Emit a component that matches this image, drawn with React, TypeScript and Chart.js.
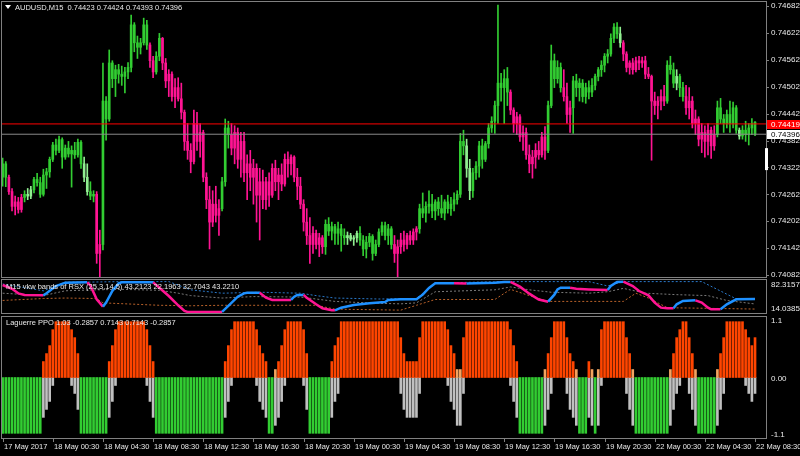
import React, { useEffect, useRef } from "react";
import { Chart, registerables } from "chart.js";

Chart.register(...registerables);

// ---------- DATA (prices in points above 0.74000) ----------
const PRICE_BASE = 0.74;
const openPts = [300,330,300,268,235,245,228,255,262,258,272,295,288,262,305,312,340,372,360,384,345,365,352,360,350,378,330,300,268,258,262,130,150,470,430,555,520,540,530,525,535,545,640,600,590,600,640,595,560,535,570,610,555,515,530,480,500,475,445,380,360,335,420,380,400,300,250,200,240,215,230,290,410,395,365,400,340,380,310,330,300,320,260,290,250,290,260,320,290,305,285,340,330,345,300,280,240,200,170,150,175,150,165,145,195,180,190,175,185,170,165,170,162,165,175,160,140,155,168,130,150,178,192,170,185,150,130,145,160,150,170,160,178,185,230,220,235,240,225,245,230,220,245,230,240,250,262,380,370,320,270,310,325,370,340,375,410,425,460,510,500,520,490,450,420,435,390,400,350,330,345,360,350,390,360,460,560,520,545,500,480,440,455,515,500,510,480,500,490,505,525,540,550,570,575,610,635,620,600,575,545,555,540,560,555,560,530,525,470,460,470,480,470,550,540,510,525,500,480,455,470,420,430,385,400,380,405,370,395,455,430,420,440,420,455,405,392,405,395,410,423];
const highPts = [343,335,305,275,258,255,262,270,275,280,300,309,300,318,320,345,378,385,392,388,372,380,370,378,385,382,345,330,290,270,268,182,555,480,584,560,550,552,548,545,556,662,645,615,610,655,650,600,570,580,621,612,565,540,535,520,522,510,450,420,375,450,445,420,405,310,280,270,280,250,300,430,425,420,415,410,400,400,350,360,340,330,320,316,300,310,330,338,320,330,352,357,350,348,320,300,250,230,210,190,182,175,170,205,210,200,195,200,195,185,178,175,170,180,190,170,168,175,172,160,185,200,200,195,190,170,160,175,180,175,180,185,190,240,265,245,270,262,250,255,260,250,260,255,265,270,398,405,385,340,320,335,380,385,380,420,435,470,684,532,540,545,495,455,445,440,415,410,372,360,375,380,400,413,470,595,575,560,555,540,510,470,525,530,520,518,510,515,520,530,545,560,576,585,620,643,645,635,605,580,560,565,568,570,568,570,545,528,490,480,495,505,560,570,555,540,530,512,505,500,480,450,435,420,415,420,412,415,470,476,440,450,470,468,460,410,415,425,420,431,424];
const lowPts = [280,279,262,225,216,220,222,245,250,252,265,280,255,258,275,300,335,350,355,320,340,345,278,342,345,320,290,260,250,245,108,78,138,383,425,500,480,510,505,488,520,535,580,565,575,595,585,545,522,530,560,540,500,480,470,455,470,430,360,340,310,330,360,345,290,230,140,190,200,170,225,280,365,350,330,320,300,290,250,270,240,200,160,230,228,235,255,270,250,270,280,300,305,290,250,230,180,150,108,130,140,123,130,128,170,160,150,150,135,150,150,158,148,155,148,125,120,145,115,125,145,170,160,150,140,110,78,130,135,140,150,150,160,175,210,200,220,210,205,215,210,205,220,215,225,240,255,350,300,250,255,295,300,320,335,365,400,398,420,470,420,460,440,400,395,380,360,340,310,298,320,340,345,340,355,455,500,510,490,470,420,400,398,480,470,468,465,475,480,495,515,525,535,555,570,600,610,590,560,535,530,530,535,540,545,520,520,338,440,430,450,460,465,530,500,495,480,470,440,430,410,395,370,355,345,350,342,360,390,420,400,410,400,410,398,385,385,380,372,395,393];
const closePts = [330,300,268,235,245,228,255,262,258,272,295,288,262,305,312,340,372,360,384,345,365,352,360,350,378,330,300,268,258,262,130,150,470,430,555,520,540,530,525,535,545,640,600,590,600,640,595,560,535,570,610,555,515,530,480,500,475,445,380,360,335,420,380,400,300,250,200,240,215,230,290,410,395,365,400,340,380,310,330,300,320,260,290,250,290,260,320,290,305,285,340,330,345,300,280,240,200,170,150,175,150,165,145,195,180,190,175,185,170,165,170,162,165,175,160,140,155,168,130,150,178,192,170,185,150,130,145,160,150,170,160,178,185,230,220,235,240,225,245,230,220,245,230,240,250,262,380,370,320,270,310,325,370,340,375,410,425,460,510,500,520,490,450,420,435,390,400,350,330,345,360,350,390,360,460,560,520,545,500,480,440,455,515,500,510,480,500,490,505,525,540,550,570,575,610,635,620,600,575,545,555,540,560,555,560,530,525,470,460,470,480,470,550,540,510,525,500,480,455,470,420,430,385,400,380,405,370,395,455,430,420,440,420,455,405,392,405,395,410,420,396];
// candle colour state: g = green, l = light green, p = pink (run-length)
const trendRuns: [string, number][] = [["g",2],["p",5],["g",1],["l",2],["g",16],["l",2],["g",2],["p",2],["g",15],["p",2],["g",2],["p",19],["g",3],["p",30],["g",7],["l",4],["g",11],["p",8],["g",15],["l",2],["g",12],["p",12],["g",5],["p",3],["g",15],["l",1],["p",14],["g",3],["l",1],["g",2],["p",10],["g",7],["l",1],["g",5]];
const askPts = 419;
const bidPts = 396;
const priceTicks = [82,142,202,262,322,382,442,502,562,622,682];
// small white marker on the price scale (from / to, points)
const scaleMarker = [365, 316];

// RSX window
const rsxBars = [0,3,5,7,13,14,17,20,27,28,30,32,33,35,37,38,48,50,53,56,58,59,70,72,75,77,78,82,84,86,92,93,94,96,97,100,102,105,106,108,112,117,122,123,127,132,134,136,138,144,148,157,160,162,165,168,171,174,176,177,178,181,183,187,193,194,196,198,201,203,206,208,210,212,214,215,217,221,223,225,226,229,231,234,240];
const rsxValues = [72,64,54.7,51.3,50.6,54.7,69.9,76.8,77.5,71,42.3,27.2,35.5,59.5,75.4,77.5,77.5,66.4,49.2,30,18.2,16.2,16.2,28.6,47.8,54.7,56.1,56.1,45.8,41,41,47.8,51.3,51.5,45.8,32,23.8,19.6,19.6,25.1,30.6,34.1,36.8,41,42.3,42.3,52,66,75.4,75.4,75,76.8,78.2,78.2,68.5,54,42,37.5,52,62.9,66.4,66.4,64.3,62.9,61.6,69.9,78.2,78.9,69.9,59.5,50.6,35.5,25.1,23.8,23.8,32,38.9,40.3,35.5,25.1,21.7,21.7,32,42.3,43.221];
const rsxDir = ["p","p","p","p","p","b","b","b","b","p","p","p","b","b","b","b","b","p","p","p","p","p","p","b","b","b","b","b","p","p","p","b","b","b","p","p","p","p","p","b","b","b","b","b","b","b","b","b","b","b","p","b","b","b","p","p","p","p","b","b","b","b","p","p","p","b","b","b","p","p","p","p","p","p","p","b","b","b","p","p","p","p","b","b","b"];
const upperBars = [0,13,20,28,38,53,60,70,82,95,100,106,120,132,138,160,187,193,198,223,234,240];
const upperVals = [74,60,78,78,79,79,62,55,57,55,50,45,43,44,76,79,79,70,79,79,43.2,43.212];
const midBars = [0,13,20,30,38,50,56,60,70,80,95,100,106,120,127,132,138,157,162,168,175,187,193,198,205,215,225,231,240];
const midVals = [55,50,60,62,63,61,55,50,45,48,47,43,38,34,33,35,58,62,68,62,57,55,58,65,55,52,50,40,32.704];
const lowBars = [0,13,20,30,32,50,60,70,100,106,127,132,138,157,162,168,174,198,202,206,212,240];
const lowVals = [40,44,45,44,35,30,29,30,30,22,20,30,42,42,63,50,38,38,55,45,25,22.196];
const RSX_MAX = 82.3157;
const RSX_MIN = 14.0385;

// Laguerre PPO, level in sevenths (0..7) per bar
const ppoLevel = [0,0,0,0,0,0,0,0,0,0,0,0,0,2,3,4,6,7,7,7,7,7,6,5,3,0,0,0,0,0,0,0,0,0,2,4,6,7,7,7,7,7,7,7,7,7,6,4,2,0,0,0,0,0,0,0,0,0,0,0,0,0,0,0,0,0,0,0,0,0,0,2,4,6,7,7,7,7,7,7,7,6,4,3,2,0,0,1,2,4,6,7,7,7,7,7,6,3,0,0,0,0,0,0,0,2,4,5,7,7,7,7,7,7,7,7,7,7,7,7,7,7,7,7,7,7,7,5,3,2,2,2,2,5,7,7,7,7,7,7,7,7,6,4,3,1,1,5,7,7,7,7,7,7,7,7,7,7,7,7,7,7,6,4,2,0,0,0,0,0,0,0,0,1,3,5,7,7,7,7,5,3,2,1,0,0,0,2,1,0,1,6,7,7,7,7,7,7,7,5,3,1,0,0,0,0,0,0,0,0,0,0,0,1,3,5,6,7,7,5,3,1,0,0,0,0,0,0,1,3,5,7,7,7,7,7,7,6,5,4,5];

const timeLabels = ["17 May 2017","18 May 00:30","18 May 04:30","18 May 08:30","18 May 12:30","18 May 16:30","18 May 20:30","19 May 00:30","19 May 04:30","19 May 08:30","19 May 12:30","19 May 16:30","19 May 20:30","22 May 00:30","22 May 04:30","22 May 08:30"];
const LABEL_STEP = 16;

// ---------- STYLE ----------
const X_MIN = -0.2;
const X_MAX = 243.5;
const GREEN = "#32CD32";
const LIGHT = "#90EE90";
const PINK = "#FF1493";
const BLUE = "#1E90FF";
const ORANGE = "#FF4500";
const TAN = "#F4A460";
const SILVER = "#C0C0C0";
const FRAME = "#808080";
const TEXT = "#e8e8e8";
const FONT = "'Liberation Sans', Arial, sans-serif";

const trend: string[] = trendRuns.flatMap(([c, n]) => Array(n).fill(c));
const barIdx = closePts.map((_, i) => i);
const candleColors = barIdx.map((i) => (trend[i] === "p" ? PINK : trend[i] === "l" ? LIGHT : GREEN));
const fmtPrice = (v: number) => (PRICE_BASE + v / 100000).toFixed(5);

function frame(ctx: CanvasRenderingContext2D, a: any) {
  ctx.strokeStyle = FRAME;
  ctx.lineWidth = 1;
  ctx.strokeRect(a.left - 0.5, a.top - 0.5, a.right - a.left + 1, a.bottom - a.top + 1);
}

const mainDecor = {
  id: "mainDecor",
  afterDraw(chart: any) {
    const { ctx, chartArea: a } = chart;
    const y = chart.scales.y;
    ctx.save();
    frame(ctx, a);
    ctx.font = `8px ${FONT}`;
    ctx.textBaseline = "middle";
    ctx.textAlign = "left";
    for (const v of priceTicks) {
      const py = y.getPixelForValue(v);
      ctx.fillStyle = FRAME;
      ctx.fillRect(a.right + 1, Math.round(py), 2, 1);
      ctx.fillStyle = TEXT;
      ctx.fillText(fmtPrice(v), a.right + 5, py);
    }
    const ay = y.getPixelForValue(askPts);
    ctx.fillStyle = "#ff0000";
    ctx.fillRect(a.right + 1, Math.round(ay) - 4, 34, 9);
    ctx.fillStyle = "#ffffff";
    ctx.fillText(fmtPrice(askPts), a.right + 5, ay + 0.5);
    const by = y.getPixelForValue(bidPts);
    ctx.fillStyle = "#ffffff";
    ctx.fillRect(a.right + 1, Math.round(by) - 4, 34, 9);
    ctx.fillStyle = "#000000";
    ctx.fillText(fmtPrice(bidPts), a.right + 5, by + 0.5);
    // marker on the scale
    const m0 = y.getPixelForValue(scaleMarker[0]);
    const m1 = y.getPixelForValue(scaleMarker[1]);
    ctx.fillStyle = "#ffffff";
    ctx.fillRect(a.right - 1, m0, 3, m1 - m0);
    // title
    ctx.beginPath();
    ctx.moveTo(5, 5);
    ctx.lineTo(11, 5);
    ctx.lineTo(8, 9);
    ctx.closePath();
    ctx.fill();
    ctx.fillStyle = TEXT;
    ctx.font = `7.5px ${FONT}`;
    ctx.fillText(
      `AUDUSD,M15  ${fmtPrice(openPts[openPts.length - 1])} ${fmtPrice(highPts[highPts.length - 1])} ${fmtPrice(lowPts[lowPts.length - 1])} ${fmtPrice(closePts[closePts.length - 1])}`,
      15,
      8
    );
    ctx.restore();
  },
};

const rsxDecor = {
  id: "rsxDecor",
  afterDraw(chart: any) {
    const { ctx, chartArea: a } = chart;
    ctx.save();
    frame(ctx, a);
    ctx.font = `8px ${FONT}`;
    ctx.textBaseline = "middle";
    ctx.fillStyle = TEXT;
    ctx.fillText(RSX_MAX.toFixed(4), a.right + 5, a.top + 5);
    ctx.fillText(RSX_MIN.toFixed(4), a.right + 5, a.bottom - 4);
    ctx.font = `7.5px ${FONT}`;
    ctx.fillText("M15 vkw bands of RSX (25,3,14.5) 43.2123 22.1963 32.7043 43.2210", 6, a.top + 7);
    ctx.restore();
  },
};

const ppoDecor = {
  id: "ppoDecor",
  afterDraw(chart: any) {
    const { ctx, chartArea: a } = chart;
    const x = chart.scales.x;
    const y = chart.scales.y;
    ctx.save();
    frame(ctx, a);
    ctx.font = `8px ${FONT}`;
    ctx.textBaseline = "middle";
    ctx.fillStyle = TEXT;
    ctx.fillText("1.1", a.right + 5, a.top + 3.5);
    ctx.fillText("0.00", a.right + 5, y.getPixelForValue(0) + 1);
    ctx.fillText("-1.1", a.right + 5, a.bottom - 3);
    ctx.font = `7.5px ${FONT}`;
    ctx.fillText("Laguerre PPO 1.03 -0.2857 0.7143 0.7143 -0.2857", 6, a.top + 6);
    // time axis
    timeLabels.forEach((t, k) => {
      const px = Math.round(x.getPixelForValue(k * LABEL_STEP));
      ctx.fillStyle = FRAME;
      ctx.fillRect(px, a.bottom + 1, 1, 3);
      ctx.fillStyle = TEXT;
      ctx.fillText(t, px + 1, a.bottom + 9);
    });
    ctx.restore();
  },
};

function mainConfig(): any {
  return {
    type: "bar",
    data: {
      datasets: [
        { type: "line", data: [{ x: X_MIN, y: askPts }, { x: X_MAX, y: askPts }], borderColor: "#ff0000", borderWidth: 1, pointRadius: 0, order: 0 },
        { type: "line", data: [{ x: X_MIN, y: bidPts }, { x: X_MAX, y: bidPts }], borderColor: "#8a8a8a", borderWidth: 1, pointRadius: 0, order: 0 },
        { data: barIdx.map((i) => ({ x: i, y: [openPts[i], closePts[i]] })), backgroundColor: candleColors, barThickness: 2, minBarLength: 1, grouped: false, order: 1 },
        { data: barIdx.map((i) => ({ x: i, y: [lowPts[i], highPts[i]] })), backgroundColor: candleColors, barThickness: 1, grouped: false, order: 2 },
      ],
    },
    options: {
      responsive: false,
      animation: false,
      layout: { padding: { left: 2, right: 34, top: 2, bottom: 1 } },
      plugins: { legend: { display: false }, tooltip: { enabled: false } },
      scales: {
        x: { type: "linear", min: X_MIN, max: X_MAX, display: false, offset: false },
        y: { min: 77.5, max: 691, display: false },
      },
    },
    plugins: [mainDecor],
  };
}

function rsxConfig(): any {
  const band = (bars: number[], vals: number[], color: string) => ({
    data: bars.map((b, k) => ({ x: b, y: vals[k] })),
    borderColor: color,
    borderWidth: 1,
    borderDash: [2, 2],
    pointRadius: 0,
    order: 2,
  });
  return {
    type: "line",
    data: {
      datasets: [
        {
          data: rsxBars.map((b, k) => ({ x: b, y: rsxValues[k] })),
          borderColor: BLUE,
          borderWidth: 2.5,
          pointRadius: 0,
          order: 0,
          segment: { borderColor: (c: any) => (rsxDir[c.p1DataIndex] === "p" ? PINK : BLUE) },
        },
        band(upperBars, upperVals, "#2a78c8"),
        band(midBars, midVals, "#7a7a7a"),
        band(lowBars, lowVals, "#b8612a"),
      ],
    },
    options: {
      responsive: false,
      animation: false,
      layout: { padding: { left: 2, right: 34, top: 2, bottom: 2 } },
      plugins: { legend: { display: false }, tooltip: { enabled: false } },
      scales: {
        x: { type: "linear", min: X_MIN, max: X_MAX, display: false },
        y: { min: RSX_MIN, max: RSX_MAX, display: false },
      },
    },
    plugins: [rsxDecor],
  };
}

function ppoConfig(): any {
  const posIdx = barIdx.filter((i) => ppoLevel[i] > 0);
  const negIdx = barIdx.filter((i) => ppoLevel[i] < 7);
  return {
    type: "bar",
    data: {
      datasets: [
        {
          data: posIdx.map((i) => ({ x: i, y: [0, ppoLevel[i] / 7] })),
          backgroundColor: posIdx.map((i) => (ppoLevel[i] === 1 ? TAN : ORANGE)),
          barThickness: 2,
          grouped: false,
        },
        {
          data: negIdx.map((i) => ({ x: i, y: [-(7 - ppoLevel[i]) / 7, 0] })),
          backgroundColor: negIdx.map((i) => (ppoLevel[i] === 0 ? GREEN : SILVER)),
          barThickness: 2,
          grouped: false,
        },
      ],
    },
    options: {
      responsive: false,
      animation: false,
      layout: { padding: { left: 2, right: 34, top: 2, bottom: 18 } },
      plugins: { legend: { display: false }, tooltip: { enabled: false } },
      scales: {
        x: { type: "linear", min: X_MIN, max: X_MAX, display: false, offset: false },
        y: { min: -1.084, max: 1.084, display: false },
      },
    },
    plugins: [ppoDecor],
  };
}

export default function App() {
  const mainRef = useRef<HTMLCanvasElement>(null);
  const rsxRef = useRef<HTMLCanvasElement>(null);
  const ppoRef = useRef<HTMLCanvasElement>(null);
  useEffect(() => {
    const charts = [
      new Chart(mainRef.current as HTMLCanvasElement, mainConfig()),
      new Chart(rsxRef.current as HTMLCanvasElement, rsxConfig()),
      new Chart(ppoRef.current as HTMLCanvasElement, ppoConfig()),
    ];
    return () => charts.forEach((c) => c.destroy());
  }, []);
  return (
    <div style={{ position: "fixed", left: 0, top: 0, width: 800, height: 456, background: "#000", overflow: "hidden" }}>
      <canvas ref={mainRef} width={800} height={278} style={{ position: "absolute", left: 0, top: 0 }} />
      <canvas ref={rsxRef} width={800} height={37} style={{ position: "absolute", left: 0, top: 278 }} />
      <canvas ref={ppoRef} width={800} height={141} style={{ position: "absolute", left: 0, top: 315 }} />
    </div>
  );
}
